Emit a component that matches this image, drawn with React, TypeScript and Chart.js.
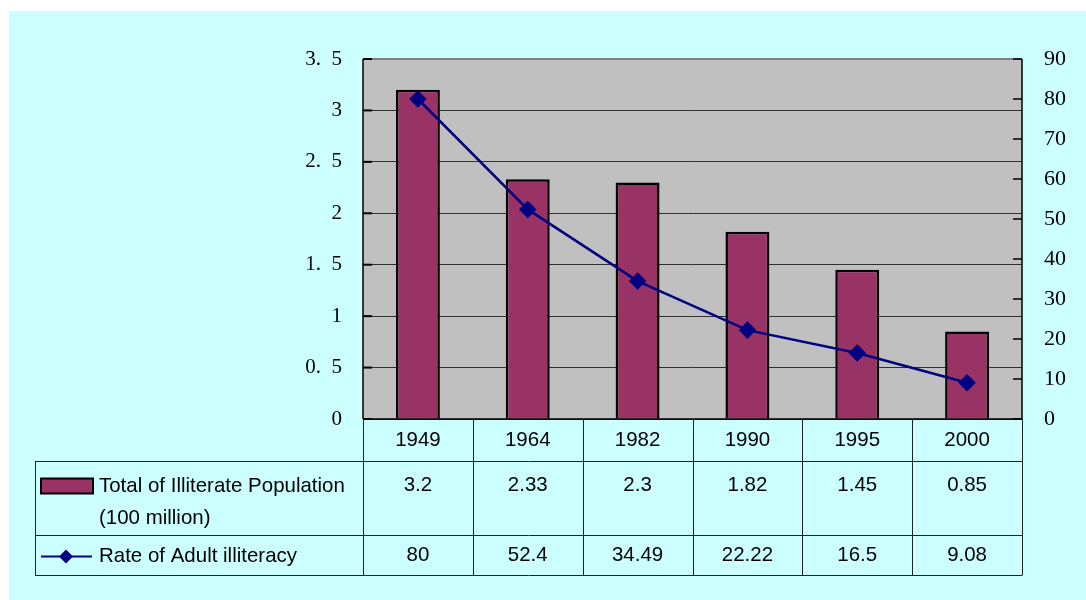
import React, { useEffect, useRef } from "react";
import { Chart, registerables } from "chart.js";

Chart.register(...registerables);

const years = ["1949", "1964", "1982", "1990", "1995", "2000"];
const population = [3.2, 2.33, 2.3, 1.82, 1.45, 0.85];
const populationLabels = ["3.2", "2.33", "2.3", "1.82", "1.45", "0.85"];
const illiteracyRate = [80, 52.4, 34.49, 22.22, 16.5, 9.08];
const rateLabels = ["80", "52.4", "34.49", "22.22", "16.5", "9.08"];
const barLegend = ["Total of Illiterate Population", "(100 million)"];
const lineLegend = "Rate of Adult illiteracy";

const BAR_COLOR = "#993366";
const LINE_COLOR = "#000080";
const BG = "#ccffff";
const PLOT_BG = "#c0c0c0";
const TABLE_FONT = '21px "Liberation Sans", Arial, sans-serif';
const SX = 0.975;

function drawText(ctx: CanvasRenderingContext2D, s: string, x: number, y: number, align: CanvasTextAlign) {
  ctx.save();
  ctx.translate(x, y);
  ctx.scale(SX, 1);
  ctx.textAlign = align;
  ctx.textBaseline = "middle";
  ctx.fillStyle = "#000";
  ctx.font = TABLE_FONT;
  ctx.fillText(s, 0, 0);
  ctx.restore();
}

const backgroundPlugin = {
  id: "bgPlugin",
  beforeDraw(chart: any) {
    const { ctx, chartArea: ca } = chart;
    ctx.save();
    ctx.fillStyle = "#ffffff";
    ctx.fillRect(0, 0, chart.width, chart.height);
    ctx.fillStyle = BG;
    ctx.fillRect(9, 11, chart.width - 9, chart.height - 11);
    ctx.fillStyle = PLOT_BG;
    ctx.fillRect(ca.left, ca.top, ca.right - ca.left, ca.bottom - ca.top);
    ctx.restore();
  },
};

const framePlugin = {
  id: "framePlugin",
  afterDraw(chart: any) {
    const { ctx, chartArea: ca, scales } = chart;
    const yL = scales.y;
    const yR = scales.y1;
    const x = scales.x;
    ctx.save();
    // plot border
    ctx.strokeStyle = "#808080";
    ctx.lineWidth = 2;
    ctx.beginPath();
    ctx.moveTo(ca.left, ca.top);
    ctx.lineTo(ca.right, ca.top);
    ctx.stroke();
    ctx.strokeStyle = "#000";
    ctx.lineWidth = 1.5;
    ctx.beginPath();
    ctx.moveTo(ca.left, ca.top);
    ctx.lineTo(ca.left, ca.bottom);
    ctx.moveTo(ca.right, ca.top);
    ctx.lineTo(ca.right, ca.bottom);
    ctx.moveTo(ca.left, ca.bottom);
    ctx.lineTo(ca.right, ca.bottom);
    ctx.stroke();
    // inward tick marks
    ctx.lineWidth = 2;
    yL.ticks.forEach((t: any) => {
      const py = yL.getPixelForValue(t.value);
      ctx.beginPath();
      ctx.moveTo(ca.left, py);
      ctx.lineTo(ca.left + 9, py);
      ctx.stroke();
    });
    ctx.lineWidth = 1.5;
    yR.ticks.forEach((t: any) => {
      const py = yR.getPixelForValue(t.value);
      ctx.beginPath();
      ctx.moveTo(ca.right - 9, py);
      ctx.lineTo(ca.right, py);
      ctx.stroke();
    });

    // data table
    const colW = x.getPixelForValue(1) - x.getPixelForValue(0);
    const tLeft = 35;
    const top = ca.bottom;
    const r1 = top + 42.5;
    const r2 = top + 116.5;
    const bottom = top + 156.5;
    ctx.strokeStyle = "#222";
    ctx.lineWidth = 1;
    ctx.beginPath();
    [r1, r2, bottom].forEach((ry) => {
      ctx.moveTo(tLeft, ry);
      ctx.lineTo(ca.right, ry);
    });
    ctx.moveTo(tLeft + 0.5, r1);
    ctx.lineTo(tLeft + 0.5, bottom);
    for (let i = 0; i <= years.length; i++) {
      const bx = Math.round(x.getPixelForValue(0) - colW / 2 + i * colW) + 0.5;
      ctx.moveTo(bx, top);
      ctx.lineTo(bx, bottom);
    }
    ctx.stroke();

    years.forEach((yr, i) => {
      const cx = x.getPixelForValue(i);
      drawText(ctx, yr, cx, top + 21, "center");
      drawText(ctx, populationLabels[i], cx, r1 + 24, "center");
      drawText(ctx, rateLabels[i], cx, r2 + 20, "center");
    });

    // legend keys
    ctx.fillStyle = BAR_COLOR;
    ctx.fillRect(41, r1 + 17, 52, 15);
    ctx.strokeStyle = "#000";
    ctx.lineWidth = 2;
    ctx.strokeRect(41, r1 + 17, 52, 15);
    drawText(ctx, barLegend[0], 99, r1 + 25, "left");
    drawText(ctx, barLegend[1], 99, r1 + 57, "left");

    const ly = r2 + 21;
    ctx.strokeStyle = LINE_COLOR;
    ctx.lineWidth = 2;
    ctx.beginPath();
    ctx.moveTo(41, ly);
    ctx.lineTo(92, ly);
    ctx.stroke();
    ctx.fillStyle = LINE_COLOR;
    ctx.beginPath();
    ctx.moveTo(66, ly - 7);
    ctx.lineTo(73, ly);
    ctx.lineTo(66, ly + 7);
    ctx.lineTo(59, ly);
    ctx.closePath();
    ctx.fill();
    drawText(ctx, lineLegend, 99, ly, "left");
    ctx.restore();
  },
};

export default function App() {
  const ref = useRef<HTMLCanvasElement | null>(null);
  useEffect(() => {
    document.body.style.margin = "0";
    const canvas = ref.current;
    if (!canvas) return;
    const chart = new Chart(canvas, {
      type: "bar",
      data: {
        labels: years,
        datasets: [
          {
            type: "line",
            label: lineLegend,
            data: illiteracyRate,
            yAxisID: "y1",
            borderColor: LINE_COLOR,
            backgroundColor: LINE_COLOR,
            borderWidth: 2.5,
            pointStyle: "rectRot",
            pointRadius: 7,
            pointBackgroundColor: LINE_COLOR,
            pointBorderColor: LINE_COLOR,
            tension: 0,
            order: 0,
          } as any,
          {
            type: "bar",
            label: barLegend.join(" "),
            data: population,
            yAxisID: "y",
            backgroundColor: BAR_COLOR,
            borderColor: "#000",
            borderWidth: 2.5,
            barPercentage: 0.4,
            categoryPercentage: 1,
            order: 1,
          } as any,
        ],
      },
      options: {
        responsive: false,
        animation: false,
        events: [],
        layout: { padding: { left: 0, right: 0, top: 59, bottom: 181 } },
        plugins: { legend: { display: false }, tooltip: { enabled: false } },
        scales: {
          x: { display: false },
          y: {
            position: "left",
            min: 0,
            max: 3.5,
            afterFit: (s: any) => {
              s.width = 363;
            },
            ticks: {
              stepSize: 0.5,
              padding: 21,
              color: "#000",
              font: { family: '"Liberation Serif", "DejaVu Serif", serif', size: 21 },
              callback: (v: any) => String(v).replace(".", ".  "),
            },
            grid: { color: "#303030", lineWidth: 1, drawTicks: false },
            border: { display: false },
          },
          y1: {
            position: "right",
            min: 0,
            max: 90,
            afterFit: (s: any) => {
              s.width = 64;
            },
            ticks: {
              stepSize: 10,
              padding: 22,
              color: "#000",
              font: { family: '"Liberation Serif", "DejaVu Serif", serif', size: 22 },
            },
            grid: { display: false, drawTicks: false },
            border: { display: false },
          },
        },
      },
      plugins: [backgroundPlugin, framePlugin],
    });
    return () => chart.destroy();
  }, []);
  return <canvas ref={ref} width={1086} height={600} style={{ display: "block" }} />;
}
